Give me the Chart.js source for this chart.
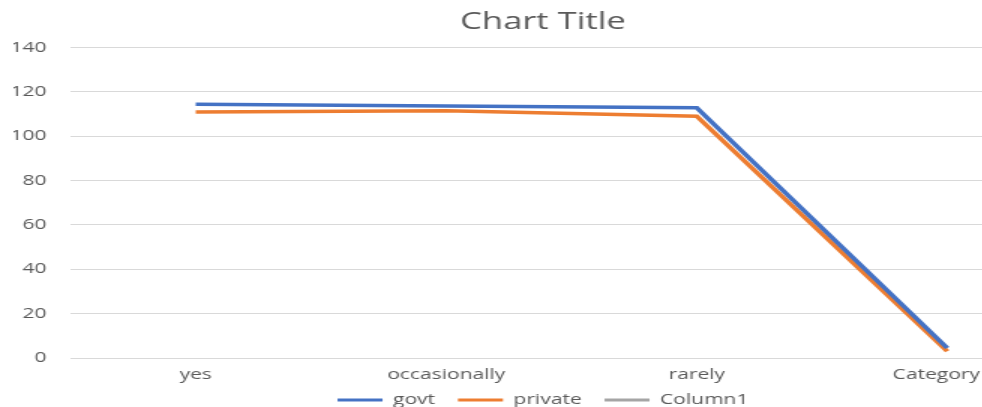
<!DOCTYPE html>
<html>
<head>
<meta charset="utf-8">
<script src="https://cdn.jsdelivr.net/npm/chart.js@4"></script>
<style>
  body { margin: 0; overflow: hidden; background: #fff; }
  /* the source picture is stretched sideways, so the chart is drawn narrow and widened */
  #wrap { width: 724px; height: 407px; position: relative; transform: scaleX(1.5); transform-origin: 0 0; }
</style>
</head>
<body>
<div id="wrap"><canvas id="lineChart"></canvas></div>
<script>
// Chart data
const categories = ['yes', 'occasionally', 'rarely', 'Category'];
const govtValues = [114.5, 113.7, 112.9, 4.5];
const privateValues = [111, 111.5, 109, 3];
const column1Values = [null, null, null, null];
const yTicks = [0, 20, 40, 60, 80, 100, 120, 140];

const seriesColors = {
    govt: '#4472C4',     // Blue
    private: '#ED7D31',  // Orange
    column1: '#A5A5A5'   // Gray
};

const textColor = '#595959';
const fontFamily = '"Open Sans", "DejaVu Sans", sans-serif';

function lineSet(label, data, color) {
    return {
        label: label,
        data: data,
        borderColor: color,
        backgroundColor: color,
        borderWidth: 3.5,
        pointRadius: 0,
        tension: 0
    };
}

new Chart(document.getElementById('lineChart').getContext('2d'), {
    type: 'line',
    data: {
        labels: categories,
        datasets: [
            lineSet('govt', govtValues, seriesColors.govt),
            lineSet('private', privateValues, seriesColors.private),
            lineSet('Column1', column1Values, seriesColors.column1)
        ]
    },
    options: {
        responsive: true,
        maintainAspectRatio: false,
        animation: false,
        layout: {
            padding: { left: 9, right: 9, top: 2, bottom: -10 }
        },
        scales: {
            x: {
                offset: true,
                grid: { display: false, drawTicks: false },
                border: { display: false },
                afterFit: function(scale) {
                    scale.height = 27;
                },
                ticks: {
                    color: textColor,
                    font: { family: fontFamily, size: 14 },
                    padding: 9,
                    maxRotation: 0,
                    autoSkip: false,
                    // last label sits a little left of its point, as in the picture
                    callback: function(value, index) {
                        const label = this.getLabelForValue(value);
                        return index === categories.length - 1 ? label + '    ' : label;
                    }
                }
            },
            y: {
                min: 0,
                max: 140,
                afterBuildTicks: function(scale) {
                    scale.ticks = yTicks.map(v => ({ value: v }));
                },
                afterFit: function(scale) {
                    scale.width = 38;
                },
                grid: { color: '#d9d9d9', lineWidth: 1, drawTicks: false },
                border: { display: false },
                ticks: {
                    color: textColor,
                    font: { family: fontFamily, size: 14 },
                    padding: 16
                }
            }
        },
        plugins: {
            title: {
                display: true,
                text: 'Chart Title',
                color: textColor,
                font: { family: fontFamily, size: 23, weight: 'normal' },
                padding: { top: 7, bottom: 11 }
            },
            legend: {
                position: 'bottom',
                labels: {
                    color: textColor,
                    font: { family: fontFamily, size: 14 },
                    boxWidth: 30,
                    boxHeight: 3,
                    padding: 8,
                    generateLabels: function(chart) {
                        const items = Chart.defaults.plugins.legend.labels.generateLabels(chart);
                        return items.map((item, i) => Object.assign(item, {
                            lineWidth: 0,
                            text: i < items.length - 1 ? item.text + '  ' : item.text
                        }));
                    }
                }
            },
            tooltip: { enabled: false }
        }
    }
});
</script>
</body>
</html>
